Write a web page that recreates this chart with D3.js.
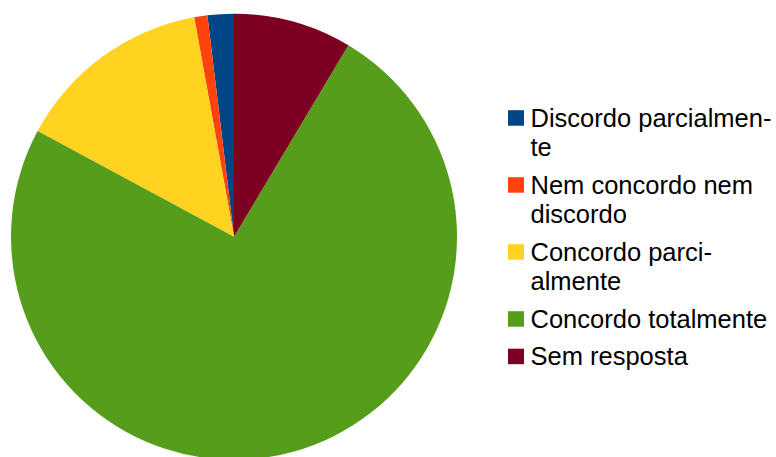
<!DOCTYPE html>
<html>
<head>
<meta charset="utf-8">
<script src="https://cdn.jsdelivr.net/npm/d3@7"></script>
<style>
  html, body { margin: 0; padding: 0; background: #ffffff; }
  svg { display: block; }
</style>
</head>
<body>
<svg id="chart" width="776" height="457"></svg>
<script>
// Survey answers (counts per response option)
const categories = [
  "Discordo parcialmente",
  "Nem concordo nem discordo",
  "Concordo parcialmente",
  "Concordo totalmente",
  "Sem resposta"
];
const values = [2, 1, 15, 78, 9];
const colors = ["#004586", "#ff420e", "#ffd320", "#579d1c", "#7e0021"];
// Legend text as it wraps in the legend column
const legendLines = [
  ["Discordo parcialmen-", "te"],
  ["Nem concordo nem", "discordo"],
  ["Concordo parci-", "almente"],
  ["Concordo totalmente"],
  ["Sem resposta"]
];

const svg = d3.select("#chart");

const cx = 234, cy = 236.7, radius = 223;

// Slices run counter-clockwise from 12 o'clock
const pie = d3.pie()
  .value(d => d.value)
  .sort(null)
  .startAngle(0)
  .endAngle(-2 * Math.PI);

const arc = d3.arc().innerRadius(0).outerRadius(radius);

const data = categories.map((c, i) => ({ name: c, value: values[i], color: colors[i] }));

svg.append("g")
  .attr("transform", `translate(${cx},${cy})`)
  .selectAll("path")
  .data(pie(data))
  .join("path")
  .attr("d", arc)
  .attr("fill", d => d.data.color);

// Legend
const fontSize = 25.5, lineH = 29.5, gap = 8;
const legend = svg.append("g")
  .attr("font-family", "'Liberation Sans', Arial, sans-serif")
  .attr("font-size", fontSize)
  .attr("fill", "#000000");

let baseline = 126.7;
data.forEach((d, i) => {
  const g = legend.append("g");
  g.append("rect")
    .attr("x", 508)
    .attr("y", baseline - 16.5)
    .attr("width", 16)
    .attr("height", 15.5)
    .attr("fill", d.color);
  legendLines[i].forEach((line, j) => {
    g.append("text")
      .attr("x", 530.5)
      .attr("y", baseline + j * lineH)
      .text(line);
  });
  baseline += legendLines[i].length * lineH + gap;
});
</script>
</body>
</html>
